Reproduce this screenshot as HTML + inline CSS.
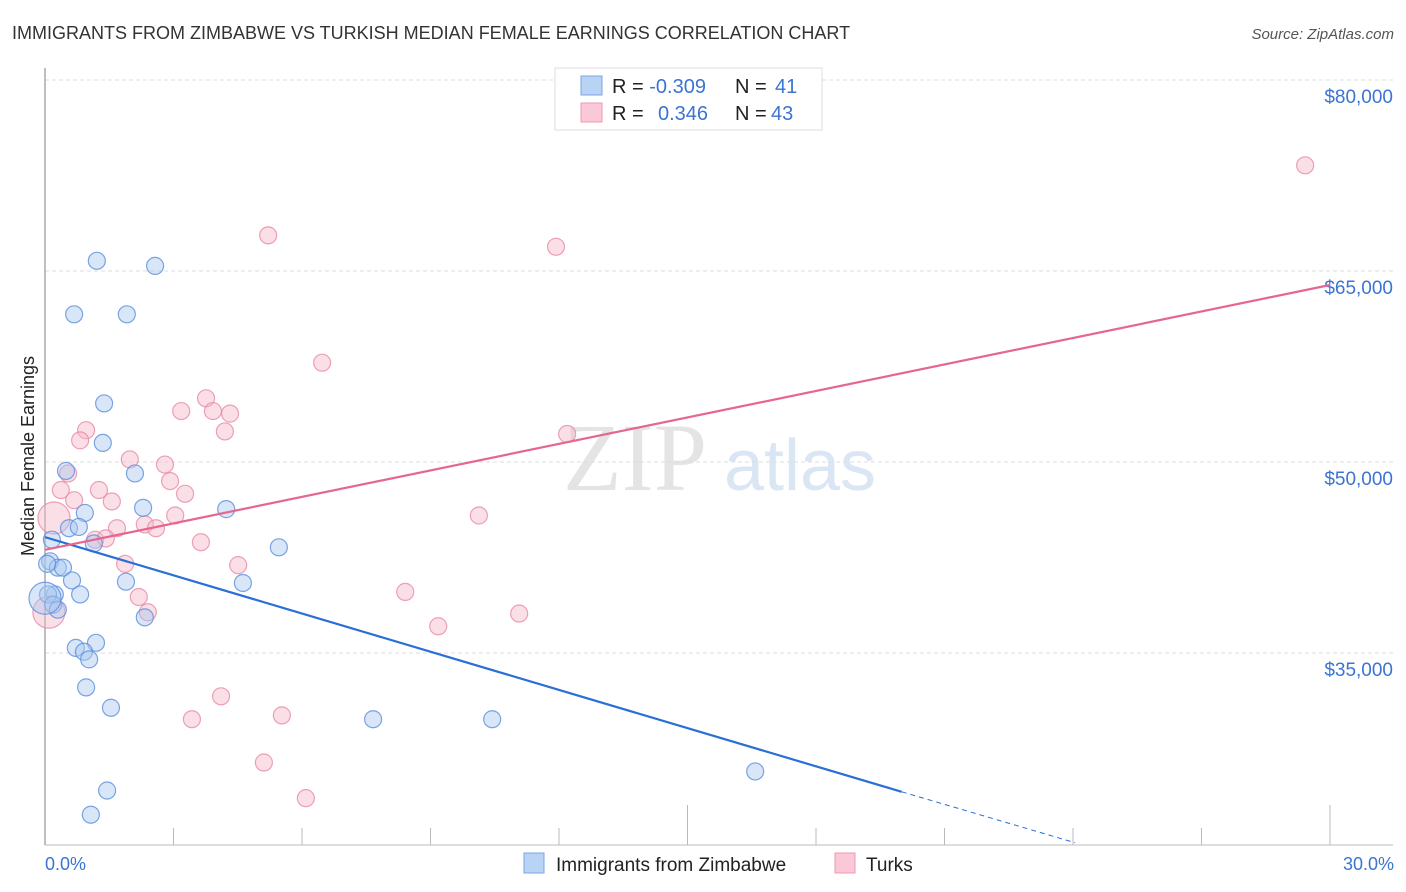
<!DOCTYPE html>
<html><head><meta charset="utf-8"><style>
body{margin:0;background:#fff;font-family:"Liberation Sans",sans-serif;}
svg{display:block}
</style></head><body>
<svg width="1406" height="892" viewBox="0 0 1406 892" xmlns="http://www.w3.org/2000/svg">
<text x="12" y="39" font-size="18" fill="#333">IMMIGRANTS FROM ZIMBABWE VS TURKISH MEDIAN FEMALE EARNINGS CORRELATION CHART</text>
<text x="1394" y="39" font-size="15" fill="#555" text-anchor="end" font-style="italic">Source: ZipAtlas.com</text>
<g>
<text x="635" y="490" font-family="Liberation Serif" font-size="96" fill="#e4e4e4" text-anchor="middle">ZIP</text>
<text x="800" y="490" font-size="72" fill="#dbe6f5" text-anchor="middle">atlas</text>
</g>
<g id="grid"></g>
<line x1="45" y1="68" x2="45" y2="845" stroke="#aaa" stroke-width="1.5"/>
<line x1="45" y1="845" x2="1393" y2="845" stroke="#bbb" stroke-width="1"/>
<g id="ticks"></g>
<text transform="translate(34,456) rotate(-90)" font-size="18" fill="#222" text-anchor="middle">Median Female Earnings</text>
<text x="45" y="870" font-size="18" fill="#3b74d1">0.0%</text>
<text x="1394" y="870" font-size="18" fill="#3b74d1" text-anchor="end">30.0%</text>
<g id="points"></g>
<g id="lines"></g>
<g>
<rect x="555" y="68" width="267" height="62" fill="#fff" stroke="#ddd"/>
<rect x="581" y="76" width="21" height="19" fill="#b9d3f5" stroke="#7aa6e3"/>
<rect x="581" y="103" width="21" height="19" fill="#fac8d6" stroke="#ee9ab2"/>
<text x="612" y="93" font-size="20" fill="#222">R = <tspan fill="#3b74d1">-0.309</tspan><tspan x="735">N = </tspan><tspan x="775" fill="#3b74d1">41</tspan></text>
<text x="612" y="120" font-size="20" fill="#222">R = <tspan x="658" fill="#3b74d1">0.346</tspan><tspan x="735">N = </tspan><tspan x="771" fill="#3b74d1">43</tspan></text>
</g>
<g>
<rect x="524" y="853" width="20" height="20" fill="#b9d3f5" stroke="#7aa6e3"/>
<text x="556" y="871" font-size="19" fill="#222">Immigrants from Zimbabwe</text>
<rect x="835" y="853" width="20" height="20" fill="#fac8d6" stroke="#ee9ab2"/>
<text x="866" y="871" font-size="19" fill="#222">Turks</text>
</g>
</svg>
<script>
const yTicks=[80000,65000,50000,35000];
const yTickLabels=["$80,000","$65,000","$50,000","$35,000"];
const xTicks=[3,6,9,12,15,18,21,24,27,30];
const blueX=[1.21,2.57,0.68,1.91,1.38,1.35,0.49,2.10,0.93,2.29,4.23,0.56,0.79,1.14,5.46,0.16,0.12,0.30,0.42,0.63,1.89,4.62,0.23,0.82,0.07,0.19,0.30,2.33,1.19,0.72,0.91,1.03,0.96,1.54,7.66,10.44,16.58,1.45,1.07,0.0,0.05];
const blueY=[65.8,65.4,61.6,61.6,54.6,51.5,49.3,49.1,46.0,46.4,46.3,44.8,44.9,43.6,43.3,43.9,42.2,41.7,41.7,40.7,40.6,40.5,39.6,39.6,39.6,38.8,38.4,37.8,35.8,35.4,35.1,34.5,32.3,30.7,29.8,29.8,25.7,24.2,22.3,39.3,42.0];
const pinkX=[29.42,5.21,11.93,6.47,3.76,3.18,3.92,4.32,0.96,4.20,0.82,12.19,1.98,2.80,0.54,2.92,0.37,1.26,3.27,0.68,1.56,10.13,3.04,0.21,2.33,2.59,1.68,1.17,1.42,3.64,4.51,1.87,8.41,2.19,2.40,0.09,11.07,9.18,4.11,3.43,5.53,5.11,6.09];
const pinkY=[73.3,67.8,66.9,57.8,55.0,54.0,54.0,53.8,52.5,52.4,51.7,52.2,50.2,49.8,49.1,48.5,47.8,47.8,47.5,47.0,46.9,45.8,45.8,45.6,45.1,44.8,44.8,43.9,44.0,43.7,41.9,42.0,39.8,39.4,38.2,38.2,38.1,37.1,31.6,29.8,30.1,26.4,23.6];
const bigBlue=[39];
const bigPink=[23,35];
const blueTrend=[[0,44.1],[20,24.1],[24.05,20.1]];
const pinkTrend=[[0,43.1],[30,63.9]];
const NS="http://www.w3.org/2000/svg";
function sx(p){return 45+p*1285/30;}
function sy(k){return 80+(80-k)*191/15;}
function mk(t,a,parent){const e=document.createElementNS(NS,t);for(const k in a)e.setAttribute(k,a[k]);document.getElementById(parent).appendChild(e);return e;}
yTicks.forEach((v,i)=>{
 const g=mk('line',{x1:45,x2:1393,y1:sy(v/1000),y2:sy(v/1000),stroke:'#ddd','stroke-dasharray':'4,3'},'grid');
 
 
 const t=mk('text',{x:1393,y:sy(v/1000)+23,'font-size':19,fill:'#3b74d1','text-anchor':'end'},'grid');
 t.textContent=yTickLabels[i];
 
 
});
xTicks.forEach(p=>{
 const tall=(p%15===0);
 const l=mk('line',{x1:sx(p),x2:sx(p),y1:tall?805:828,y2:845,stroke:'#bbb'},'ticks');
 
 
});
function pts(xs,ys,big,fill,stroke,name){
 xs.forEach((x,i)=>{
  const c=mk('circle',{cx:sx(x),cy:sy(ys[i]),r:big.includes(i)?16:8.5,fill:fill,'fill-opacity':0.45,stroke:stroke,'stroke-width':1.2,'stroke-opacity':0.8},'points');
  
  
 });
}
pts(pinkX,pinkY,bigPink,'#f7b8ca','#e98aa7','turks-point');
pts(blueX,blueY,bigBlue,'#a9c8f0','#5b8fdc','zimbabwe-point');
const b1=mk('line',{x1:sx(blueTrend[0][0]),y1:sy(blueTrend[0][1]),x2:sx(blueTrend[1][0]),y2:sy(blueTrend[1][1]),stroke:'#2a6fd6','stroke-width':2.2},'lines');


const b2=mk('line',{x1:sx(blueTrend[1][0]),y1:sy(blueTrend[1][1]),x2:sx(blueTrend[2][0]),y2:sy(blueTrend[2][1]),stroke:'#2a6fd6','stroke-width':1,'stroke-dasharray':'5,4'},'lines');


const p1=mk('line',{x1:sx(pinkTrend[0][0]),y1:sy(pinkTrend[0][1]),x2:sx(pinkTrend[1][0]),y2:sy(pinkTrend[1][1]),stroke:'#e5668f','stroke-width':2.2},'lines');


</script>
</body></html>
